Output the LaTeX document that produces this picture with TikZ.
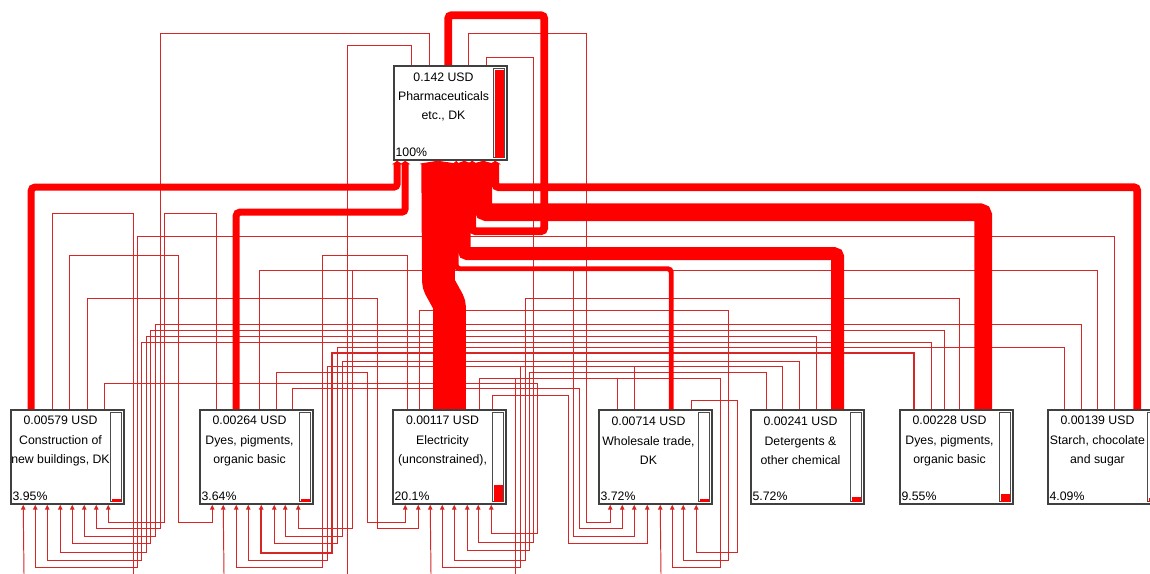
\documentclass[tikz,border=0pt]{standalone}
\usepackage{fontspec}
\setmainfont{Liberation Sans}
\usetikzlibrary{arrows.meta}

\definecolor{flowred}{RGB}{255,0,0}
\definecolor{wirered}{RGB}{214,38,38}

% process box: name, centre, amount, line 1, line 2, share, bar fill (px)
\newcommand{\procbox}[7]{%
  \node[proc] (#1) at (#2) {};
  \node[proctext] (#1-txt) at ([shift={(-7,-16)}]#1.center) {#3\\#4\\#5};
  \node[procshare] (#1-pct) at ([shift={(2,-4)}]#1.south west) {#6};
  \draw[barframe] ([shift={(-14,3)}]#1.north east) rectangle ([shift={(-3,-3)}]#1.south east);
  \fill[flowred] ([shift={(-13,-3)}]#1.south east) rectangle ([shift={(-4,-3-#7)}]#1.south east);
}
% thin link: [style] source, x off, level, lane, target, x off, depth below target
\newcommand{\link}[8][]{%
  \draw[wire,#1] ([shift={(#3,0)}]#2.north west) |- (#5,#4)
    |- ([shift={(#7,#8)}]#6.south west) -- ([shift={(#7,0)}]#6.south west);
}

\begin{document}
\begin{tikzpicture}[x=0.02cm, y=-0.02cm,
    proc/.style      = {rectangle, draw=black!75, fill=white, line width=0.9pt,
                        minimum width=2.26cm, minimum height=1.88cm, inner sep=0pt},
    proctext/.style  = {align=center, inner sep=0pt, font=\fontsize{7}{11}\selectfont},
    procshare/.style = {anchor=base west, inner sep=0pt, font=\fontsize{7}{11}\selectfont},
    barframe/.style  = {draw=black!70, fill=white, line width=0.6pt},
    flow/.style      = {draw=flowred, line width=#1, rounded corners=2pt,
                        -{Triangle[length=2pt, width=0pt 1.4]}},
    wire/.style      = {draw=wirered, line width=0.55pt, -{Triangle[length=2.8pt, width=2.6pt]}},
]
\useasboundingbox (0,0) rectangle (1150,574);
\clip (0,0) rectangle (1150,574);
\fill[white] (0,0) rectangle (1150,574);

% Processes
\procbox{p}{450.5,113}{0.142 USD}{Pharmaceuticals}{etc., DK}{100\%}{88}
\procbox{b1}{67.5,457}{0.00579 USD}{Construction of}{new buildings, DK}{3.95\%}{3}
\procbox{b2}{256.5,457}{0.00264 USD}{Dyes, pigments,}{organic basic}{3.64\%}{3}
\procbox{b3}{449.5,457}{0.00117 USD}{Electricity}{(unconstrained),}{20.1\%}{17}
\procbox{b4}{655.5,457}{0.00714 USD}{Wholesale trade,}{DK}{3.72\%}{3}
\procbox{b5}{807.5,457}{0.00241 USD}{Detergents \&}{other chemical}{5.72\%}{5}
\procbox{b6}{956.5,457}{0.00228 USD}{Dyes, pigments,}{organic basic}{9.55\%}{8}
\procbox{b7}{1104.5,457}{0.00139 USD}{Starch, chocolate}{and sugar}{4.09\%}{4}

% Loose ends below the picture
\coordinate (in1) at (24,574);
\coordinate (in2) at (224,574);
\coordinate (in3) at (431,574);
\coordinate (in4) at (661,574);
\coordinate (out1) at (133,574);
\coordinate (out2) at (347,574);
\coordinate (out3) at (515,574);

% Thin links into Construction
\link{b7}{67}{236}{137}{b1}{25}{63}
\link{b6}{32}{342}{141}{b1}{37}{56}
\link{b5}{66}{336}{146}{b1}{50}{48}
\link{b6}{45}{330}{150}{b1}{62}{39}
\link{b7}{34}{324}{155}{b1}{74}{32}
\link{p}{36}{33}{160}{b1}{86}{24}
\link{b2}{17}{213}{164}{b1}{98}{18}
% Thin links into Dyes, pigments (left)
\link{b1}{59}{255}{178}{b2}{13}{18}
\link{b3}{15}{255}{322}{b2}{37}{63}
\link{b5}{32}{366}{327}{b2}{49}{56}
\link[line width=1pt]{b6}{15}{353}{332}{b2}{62}{48}
\link{b7}{17}{347}{337}{b2}{75}{39}
\link{b5}{49}{361}{342}{b2}{86}{32}
\link{b7}{50}{270}{352}{b2}{99}{24}
% Thin links into Electricity
\link{b2}{77}{372}{367}{b3}{13}{18}
\link{b1}{77}{298}{377}{b3}{26}{24}
\link{b4}{36}{366}{520}{b3}{50}{63}
\link{b6}{60}{298}{525}{b3}{62}{56}
\link{b5}{16}{372}{529}{b3}{75}{46}
\link{p}{93}{57}{533}{b3}{86}{38}
\link{b1}{94}{383}{537}{b3}{99}{29}
% Thin links into Wholesale trade
\link{p}{75}{33}{586}{b4}{12}{18}
\link{b2}{93}{388}{579}{b4}{24}{24}
\link{b2}{60}{270}{573}{b4}{36}{32}
\link{b3}{100}{395}{568}{b4}{49}{39}
\link{b3}{87}{378}{720}{b4}{74}{63}
\link{b3}{27}{310}{728}{b4}{85}{56}
\link{b4}{93}{400}{737}{b4}{98}{48}
% Links leaving or entering at the bottom edge
\draw[wire] (in1) -- ([shift={(13,0)}]b1.south west);
\draw[wire] (in2) -- ([shift={(24,0)}]b2.south west);
\draw[wire] (in3) -- ([shift={(38,0)}]b3.south west);
\draw[wire] (in4) -- ([shift={(62,0)}]b4.south west);
\draw[wire, -] ([shift={(42,0)}]b1.north west) |- (133,213) -- (out1);
\draw[wire, -] ([shift={(18,0)}]p.north west) |- (347,45) -- (out2);
\draw[wire, -] ([shift={(19,0)}]b4.north west) |- (515,378) -- (out3);

% Main flows into Pharmaceuticals
\draw[flow=4pt] ([shift={(21,0)}]b1.north west) -- ++(0,-222) -| ([shift={(4,0)}]p.south west);
\draw[flow=4pt] ([shift={(37,0)}]b2.north west) -- ++(0,-197) -| ([shift={(12,0)}]p.south west);
\draw[flow=18.7pt] (b3.north) -- ++(0,-105) -- ++(-11,-20) -- ([shift={(44.5,0)}]p.south west);
\draw[flow=2.8pt] ([shift={(73,0)}]b4.north west) -- ++(0,-140.5) -| ([shift={(63,0)}]p.south west);
\draw[flow=7.4pt] ([shift={(87.5,0)}]b5.north west) -- ++(0,-155.5) -| ([shift={(71,0)}]p.south west);
\draw[flow=10.2pt] ([shift={(84,0)}]b6.north west) -- ++(0,-197) -| ([shift={(90,0)}]p.south west);
\draw[flow=4.5pt] ([shift={(90,0)}]b7.north west) -- ++(0,-222) -| ([shift={(102,0)}]p.south west);
\draw[flow=4.5pt] ([shift={(55,0)}]p.north west) -- ++(0,-50) -- ++(96,0) -- ++(0,216) -| ([shift={(79,0)}]p.south west);

\end{tikzpicture}
\end{document}
